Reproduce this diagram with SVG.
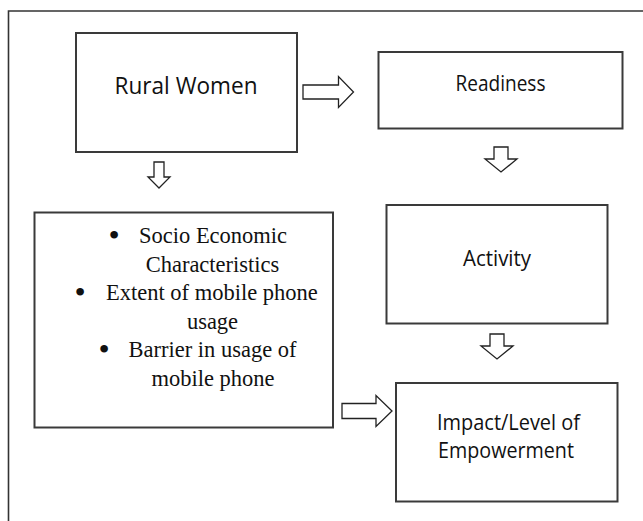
<svg xmlns="http://www.w3.org/2000/svg" width="643" height="521" viewBox="0 0 643 521">
<style>
.box{fill:#fff;stroke:#3a3a3a;stroke-width:2}
.arr{fill:#fff;stroke:#222;stroke-width:1.3;stroke-linejoin:miter}
.frame{fill:none;stroke:#333;stroke-width:1.6}
.sans{font-family:"Open Sans","Noto Sans","Liberation Sans",sans-serif;fill:#111}
.serif{font-family:"Liberation Serif","Times New Roman",serif;font-size:22.5px;fill:#111}
.bul{font-size:32px}
</style>
<rect width="643" height="521" fill="#fff"/>
<path class="frame" d="M8.5,521 V11 H643"/>
<g id="rural-women">
<rect class="box" x="76" y="33" width="221" height="119"/>
<text class="sans" x="186" y="94" font-size="23" text-anchor="middle" textLength="143" lengthAdjust="spacingAndGlyphs">Rural Women</text>
</g>
<g id="readiness">
<rect class="box" x="378.5" y="52" width="244" height="76.5"/>
<text class="sans" x="500.5" y="91" font-size="21" text-anchor="middle" textLength="90" lengthAdjust="spacingAndGlyphs">Readiness</text>
</g>
<g id="factors">
<rect class="box" x="34.5" y="212.5" width="298.5" height="215"/>
<g class="serif">
<text class="bul" x="114" y="246" text-anchor="middle">•</text>
<text x="139" y="243">Socio Economic</text>
<text x="212.5" y="271.5" text-anchor="middle">Characteristics</text>
<text class="bul" x="80" y="303" text-anchor="middle">•</text>
<text x="106" y="300">Extent of mobile phone</text>
<text x="212.5" y="328.5" text-anchor="middle">usage</text>
<text class="bul" x="104" y="360" text-anchor="middle">•</text>
<text x="128.5" y="357">Barrier in usage of</text>
<text x="213" y="385.5" text-anchor="middle">mobile phone</text>
</g>
</g>
<g id="activity">
<rect class="box" x="386.5" y="205" width="221" height="118.5"/>
<text class="sans" x="497" y="266" font-size="21" text-anchor="middle" textLength="68" lengthAdjust="spacingAndGlyphs">Activity</text>
</g>
<g id="impact">
<rect class="box" x="396" y="383" width="221.5" height="118.5"/>
<text class="sans" x="508.5" y="429.5" font-size="21" text-anchor="middle" textLength="143" lengthAdjust="spacingAndGlyphs">Impact/Level of</text>
<text class="sans" x="506" y="457.5" font-size="21" text-anchor="middle" textLength="136" lengthAdjust="spacingAndGlyphs">Empowerment</text>
</g>
<g id="connectors">
<path class="arr" d="M303,85 H338.5 V76.5 L353.5,92 L338.5,107.5 V99 H303 Z"/>
<path class="arr" d="M154,162 H164 V177 H170 L159,188 L148,177 H154 Z"/>
<path class="arr" d="M494,147 H508 V159 H517 L501,172 L485,159 H494 Z"/>
<path class="arr" d="M490,334 H504 V346 H513 L497,359 L481,346 H490 Z"/>
<path class="arr" d="M342,403.5 H376 V395.5 L392,411 L376,426.5 V418.5 H342 Z"/>
</g>
</svg>
